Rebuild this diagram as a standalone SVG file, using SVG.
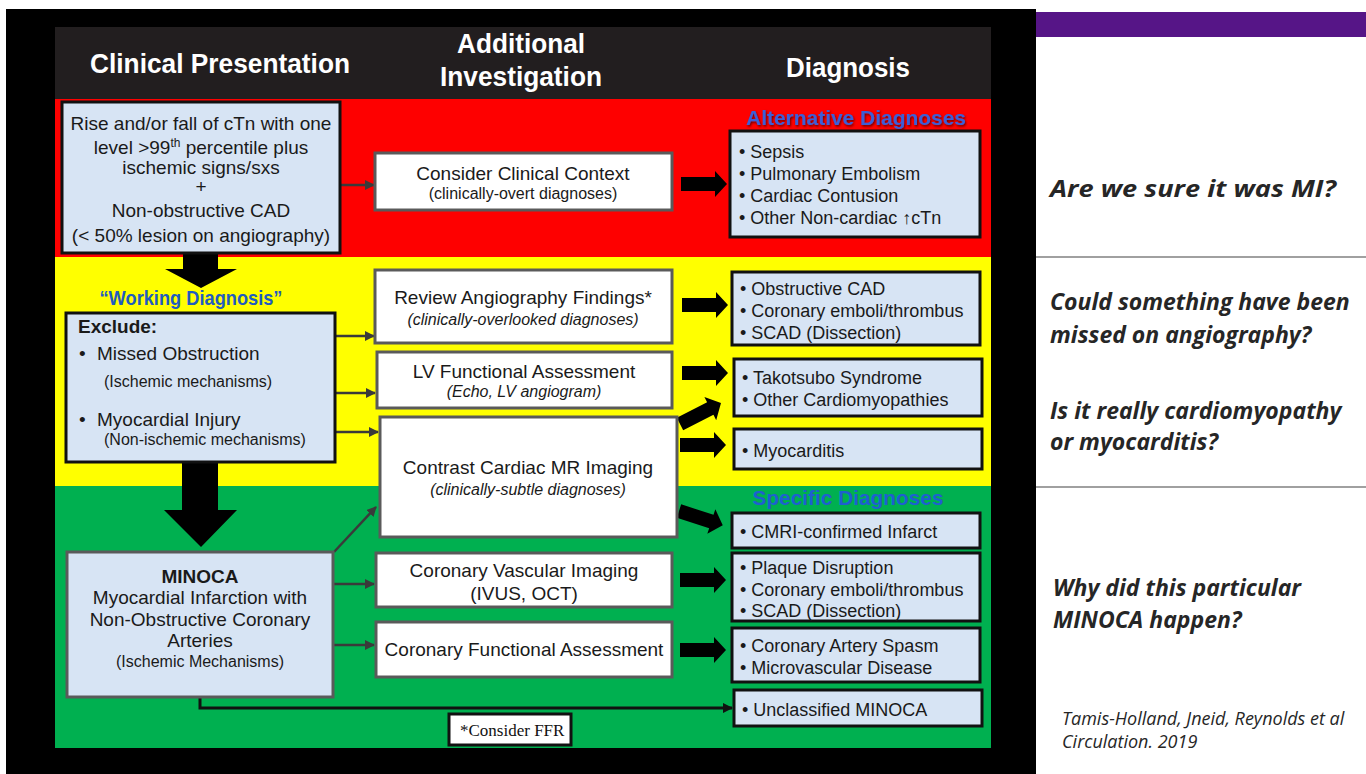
<svg xmlns="http://www.w3.org/2000/svg" width="1366" height="774" viewBox="0 0 1366 774">
<defs>
<style>
.n{font-family:"Liberation Sans",Arial,sans-serif;fill:#1a1a1a}
.hd{font-family:"Liberation Sans",Arial,sans-serif;font-weight:bold;fill:#ffffff;font-size:27px;text-anchor:middle}
.c{text-anchor:middle}
.t{font-size:19px}
.d{font-size:18px}
.s{font-size:16px}
.i{font-style:italic}
.b{font-weight:bold}
.ttl{font-family:"Liberation Sans",Arial,sans-serif;font-weight:bold;font-size:21px;text-anchor:middle}
.dx{fill:#d7e4f4;stroke:#111;stroke-width:3}
.ix{fill:#ffffff;stroke:#5a5a5a;stroke-width:3}
.q{font-family:"Open Sans",Lato,sans-serif;font-style:italic;font-weight:bold;font-size:23px;fill:#262626}
.cit{font-family:"Open Sans",Lato,sans-serif;font-style:italic;font-size:18px;fill:#262626}
.thin{fill:none;stroke:#3a3a3a;stroke-width:2.5;marker-end:url(#ah)}
.thick{fill:#000}
</style>
<marker id="ah" viewBox="0 0 10 10" refX="9" refY="5" markerWidth="4" markerHeight="4" orient="auto" markerUnits="strokeWidth">
<path d="M0,0 L10,5 L0,10 Z" fill="#3a3a3a"/>
</marker>
<marker id="ahk" viewBox="0 0 10 10" refX="9" refY="5" markerWidth="3.5" markerHeight="3.5" orient="auto" markerUnits="strokeWidth">
<path d="M0,0 L10,5 L0,10 Z" fill="#111"/>
</marker>
<path id="ta" d="M0,-7 H34 V-13 L46,0 L34,13 V7 H0 Z"/>
<filter id="sh" x="-10%" y="-10%" width="120%" height="130%">
<feDropShadow dx="1" dy="1.5" stdDeviation="0.8" flood-color="#000" flood-opacity="0.6"/>
</filter>
</defs>

<rect x="0" y="0" width="1366" height="774" fill="#ffffff"/>
<rect x="6" y="9" width="1030" height="765" fill="#000000"/>
<rect x="1036" y="12" width="330" height="25" fill="#561587"/>
<line x1="1036" y1="257" x2="1366" y2="257" stroke="#808080" stroke-width="1.5"/>
<line x1="1036" y1="487" x2="1366" y2="487" stroke="#808080" stroke-width="1.5"/>

<g id="bands">
<rect x="55" y="27" width="936" height="72" fill="#221e1f"/>
<rect x="55" y="99" width="936" height="158" fill="#fe0000"/>
<rect x="55" y="257" width="936" height="229" fill="#ffff00"/>
<rect x="55" y="486" width="936" height="262" fill="#00b050"/>
<text class="hd" x="220" y="73" textLength="260" lengthAdjust="spacingAndGlyphs">Clinical Presentation</text>
<text class="hd" x="521" y="53" textLength="128" lengthAdjust="spacingAndGlyphs">Additional</text>
<text class="hd" x="521" y="86" textLength="162" lengthAdjust="spacingAndGlyphs">Investigation</text>
<text class="hd" x="848" y="77" textLength="124" lengthAdjust="spacingAndGlyphs">Diagnosis</text>
</g>

<g id="connectors">
<line class="thin" x1="340" y1="185" x2="374" y2="185"/>
<line class="thin" x1="335" y1="336" x2="374" y2="336"/>
<line class="thin" x1="335" y1="393" x2="375" y2="393"/>
<line class="thin" x1="335" y1="432" x2="378" y2="432"/>
<line class="thin" x1="334" y1="552" x2="376" y2="507"/>
<line class="thin" x1="333" y1="584" x2="374" y2="584"/>
<line class="thin" x1="333" y1="645" x2="374" y2="645"/>
<path d="M200,697 V708 H732" fill="none" stroke="#111" stroke-width="3" marker-end="url(#ahk)"/>
<path class="thick" d="M183,252 H218 V269 H237 L201,288 L165,269 H183 Z"/>
<path class="thick" d="M182,462 H218 V510 H237 L201,547 L164,510 H182 Z"/>
<use href="#ta" class="thick" transform="translate(681,184)"/>
<use href="#ta" class="thick" transform="translate(682,305)"/>
<use href="#ta" class="thick" transform="translate(682,373)"/>
<use href="#ta" class="thick" transform="translate(680,424) rotate(-27)"/>
<use href="#ta" class="thick" transform="translate(680,445)"/>
<use href="#ta" class="thick" transform="translate(679,511) rotate(18)"/>
<use href="#ta" class="thick" transform="translate(680,580)"/>
<use href="#ta" class="thick" transform="translate(680,650)"/>
</g>

<g id="presentation">
<rect class="dx" x="62" y="102" width="278" height="151"/>
<text class="n c t" x="201" y="130">Rise and/or fall of cTn with one</text>
<text class="n c t" x="201" y="154">level &gt;99<tspan font-size="12" dy="-7">th</tspan><tspan dy="7"> percentile plus</tspan></text>
<text class="n c t" x="201" y="174">ischemic signs/sxs</text>
<text class="n c t" x="201" y="193">+</text>
<text class="n c t" x="201" y="217">Non-obstructive CAD</text>
<text class="n c t" x="201" y="242">(&lt; 50% lesion on angiography)</text>
</g>

<g id="working">
<text class="ttl" x="191" y="305" fill="#1f5cbf" textLength="183" lengthAdjust="spacingAndGlyphs">“Working Diagnosis”</text>
<rect class="dx" x="66" y="313" width="269" height="149"/>
<text class="n t b" x="78" y="333">Exclude:</text>
<text class="n t" x="79" y="360">•</text>
<text class="n t" x="97" y="360">Missed Obstruction</text>
<text class="n s" x="104" y="387">(Ischemic mechanisms)</text>
<text class="n t" x="79" y="426">•</text>
<text class="n t" x="97" y="426">Myocardial Injury</text>
<text class="n s" x="104" y="445">(Non-ischemic mechanisms)</text>
</g>

<g id="minoca">
<rect x="67" y="552" width="266" height="145" fill="#d7e4f4" stroke="#5a5a5a" stroke-width="3"/>
<text class="n c t b" x="200" y="583">MINOCA</text>
<text class="n c t" x="200" y="604">Myocardial Infarction with</text>
<text class="n c t" x="200" y="626">Non-Obstructive Coronary</text>
<text class="n c t" x="200" y="647">Arteries</text>
<text class="n c s" x="200" y="667">(Ischemic Mechanisms)</text>
</g>

<g id="inv-context">
<rect class="ix" x="375" y="153" width="297" height="57"/>
<text class="n c t" x="523" y="180">Consider Clinical Context</text>
<text class="n c s" x="523" y="199">(clinically-overt diagnoses)</text>
</g>
<g id="inv-angio">
<rect class="ix" x="375" y="270" width="297" height="73"/>
<text class="n c t" x="523" y="304">Review Angiography Findings*</text>
<text class="n c s i" x="523" y="325">(clinically-overlooked diagnoses)</text>
</g>
<g id="inv-lv">
<rect class="ix" x="377" y="352" width="295" height="56"/>
<text class="n c t" x="524" y="378">LV Functional Assessment</text>
<text class="n c s i" x="524" y="397">(Echo, LV angiogram)</text>
</g>
<g id="inv-cmr">
<rect class="ix" x="380" y="417" width="297" height="120"/>
<text class="n c t" x="528" y="474">Contrast Cardiac MR Imaging</text>
<text class="n c s i" x="528" y="495">(clinically-subtle diagnoses)</text>
</g>
<g id="inv-vasc">
<rect class="ix" x="376" y="553" width="296" height="54"/>
<text class="n c t" x="524" y="577">Coronary Vascular Imaging</text>
<text class="n c t" x="524" y="600">(IVUS, OCT)</text>
</g>
<g id="inv-func">
<rect class="ix" x="376" y="622" width="296" height="55"/>
<text class="n c t" x="524" y="656">Coronary Functional Assessment</text>
</g>

<g id="dx-alt">
<text class="ttl" x="856" y="125" fill="#3a5fd8" filter="url(#sh)" textLength="220" lengthAdjust="spacingAndGlyphs">Alternative Diagnoses</text>
<rect class="dx" x="730" y="131" width="250" height="106"/>
<text class="n d" x="739" y="158">• Sepsis</text>
<text class="n d" x="739" y="180">• Pulmonary Embolism</text>
<text class="n d" x="739" y="202">• Cardiac Contusion</text>
<text class="n d" x="739" y="224">• Other Non-cardiac ↑cTn</text>
</g>
<g id="dx-obs">
<rect class="dx" x="732" y="272" width="248" height="73"/>
<text class="n d" x="740" y="295">• Obstructive CAD</text>
<text class="n d" x="740" y="317">• Coronary emboli/thrombus</text>
<text class="n d" x="740" y="339">• SCAD (Dissection)</text>
</g>
<g id="dx-tako">
<rect class="dx" x="734" y="359" width="248" height="57"/>
<text class="n d" x="742" y="384">• Takotsubo Syndrome</text>
<text class="n d" x="742" y="406">• Other Cardiomyopathies</text>
</g>
<g id="dx-myo">
<rect class="dx" x="734" y="429" width="248" height="40"/>
<text class="n d" x="742" y="457">• Myocarditis</text>
</g>
<g id="dx-cmri">
<text class="ttl" x="848" y="505" fill="#1f5fd0" textLength="191" lengthAdjust="spacingAndGlyphs">Specific Diagnoses</text>
<rect class="dx" x="732" y="513" width="248" height="35"/>
<text class="n d" x="740" y="538">• CMRI-confirmed Infarct</text>
</g>
<g id="dx-plaque">
<rect class="dx" x="732" y="553" width="248" height="68"/>
<text class="n d" x="740" y="574">• Plaque Disruption</text>
<text class="n d" x="740" y="596">• Coronary emboli/thrombus</text>
<text class="n d" x="740" y="617">• SCAD (Dissection)</text>
</g>
<g id="dx-spasm">
<rect class="dx" x="732" y="628" width="248" height="54"/>
<text class="n d" x="740" y="652">• Coronary Artery Spasm</text>
<text class="n d" x="740" y="674">• Microvascular Disease</text>
</g>
<g id="dx-uncl">
<rect class="dx" x="734" y="690" width="248" height="36"/>
<text class="n d" x="742" y="716">• Unclassified MINOCA</text>
</g>

<g id="ffr">
<rect x="449" y="714" width="122" height="31" fill="#ffffff" stroke="#111" stroke-width="3"/>
<text x="460" y="736" font-family="'Liberation Serif',serif" font-size="17" fill="#111">*Consider FFR</text>
</g>

<g id="questions">
<text class="q" x="1050" y="197" font-size="25" textLength="286" lengthAdjust="spacingAndGlyphs">Are we sure it was MI?</text>
<text class="q" x="1050" y="310">Could something have been</text>
<text class="q" x="1050" y="343">missed on angiography?</text>
<text class="q" x="1050" y="419">Is it really cardiomyopathy</text>
<text class="q" x="1050" y="450">or myocarditis?</text>
<text class="q" x="1053" y="596">Why did this particular</text>
<text class="q" x="1053" y="628">MINOCA happen?</text>
<text class="cit" x="1062" y="725">Tamis-Holland, Jneid, Reynolds et al</text>
<text class="cit" x="1062" y="748">Circulation. 2019</text>
</g>
</svg>
